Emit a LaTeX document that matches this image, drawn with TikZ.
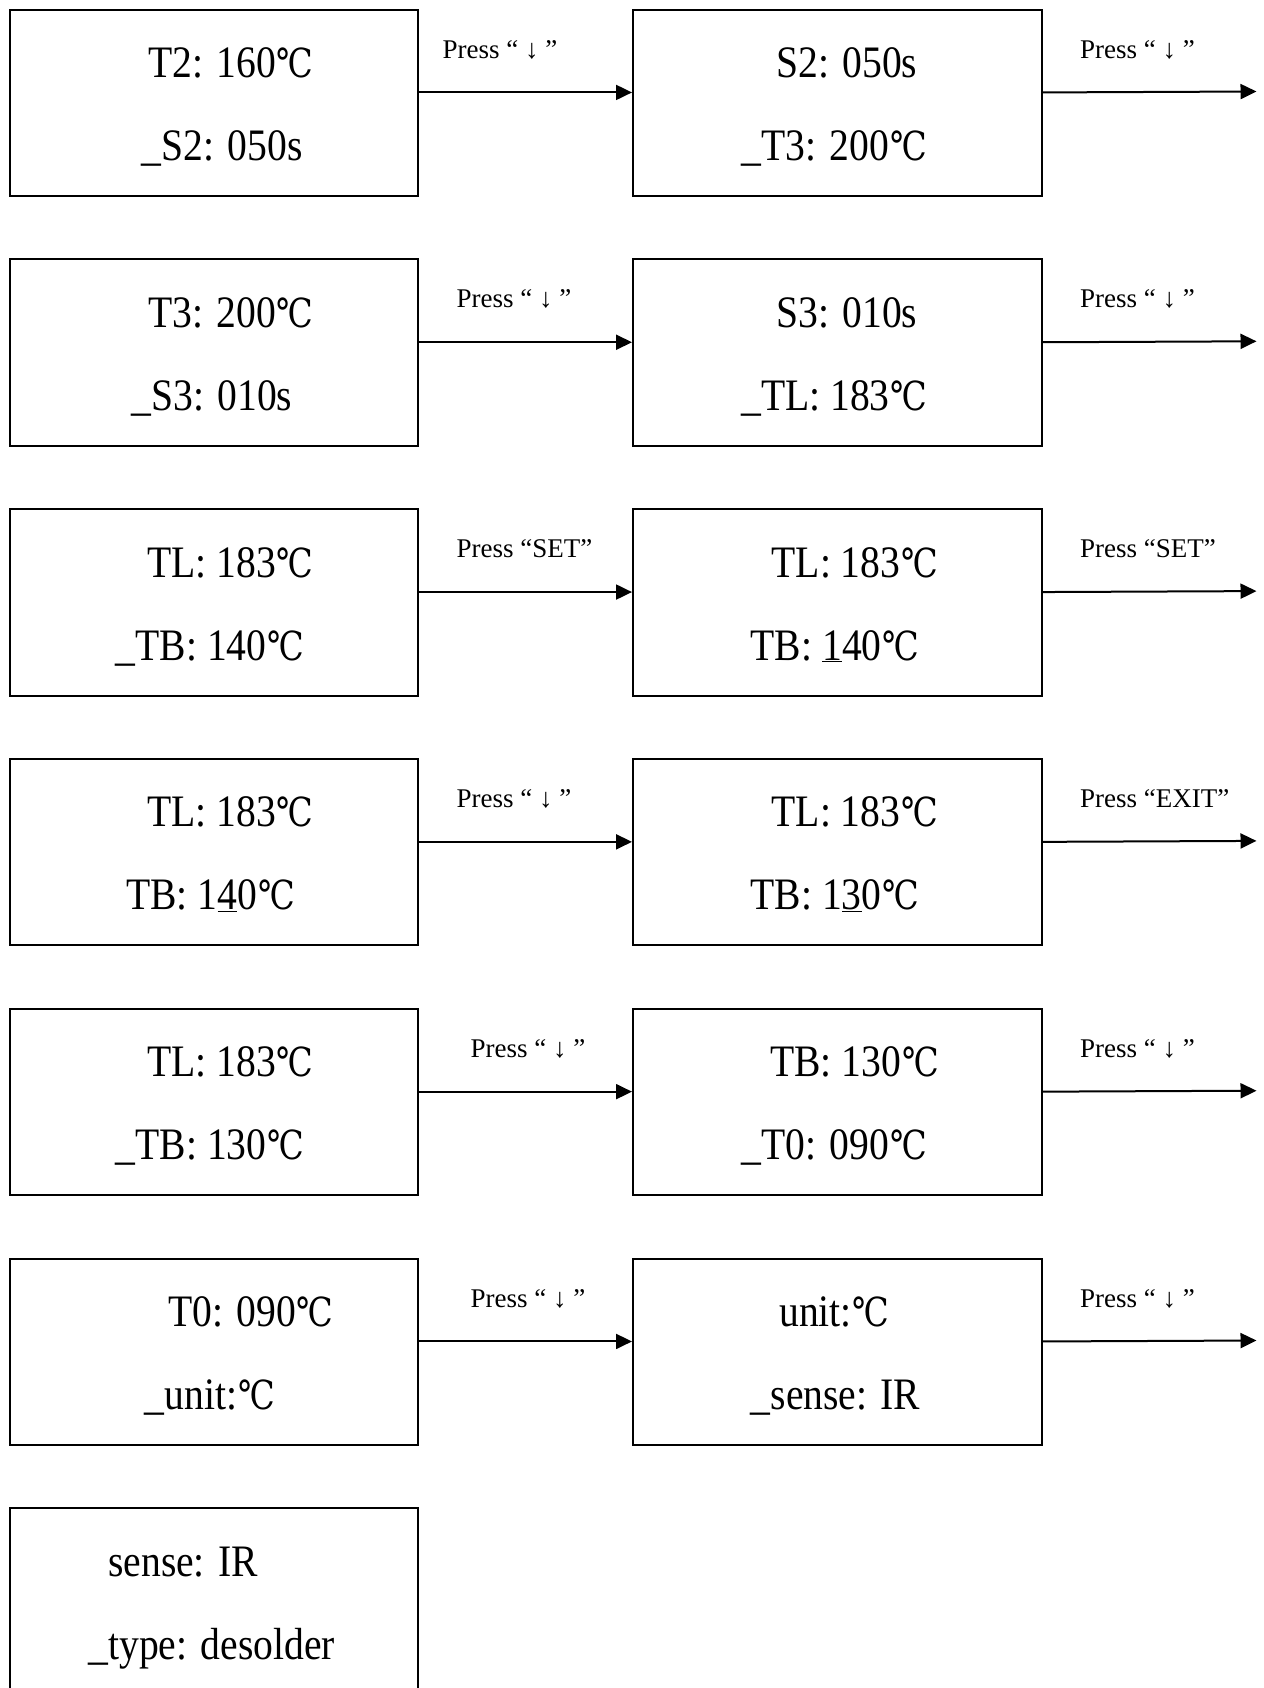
\documentclass[tikz,border=0pt]{standalone}
\usepackage{fontspec}
\setmainfont{Liberation Serif}
\newfontfamily\bigfont[FakeStretch=0.88]{Liberation Serif}
\newfontfamily\celsfont[FakeStretch=0.82]{DejaVu Serif}
\usetikzlibrary{arrows.meta}
\newcommand{\dC}{\kern1pt{\celsfont\fontsize{40}{40}\selectfont ℃}}
\tikzset{
  screen/.style={draw, line width=2pt, rectangle, minimum width=408.5pt, minimum height=186.3pt, inner sep=0pt, anchor=north west},
  big/.style={font=\bigfont\fontsize{45}{50}\selectfont, anchor=base, inner sep=0pt},
  lbl/.style={font=\fontsize{27}{30}\selectfont, anchor=base west, inner sep=0pt},
  arr/.style={line width=2pt, -{Triangle[length=16pt,width=15pt]}}
}
\begin{document}
\begin{tikzpicture}[x=1pt,y=-1pt]
\useasboundingbox (0,0) rectangle (1263,1688);
\clip (0,0) rectangle (1263,1688);
% row 1
\node[screen] (b11) at (8.6,8.6) {};
\node[screen] (b12) at (632,8.6) {};
\node[big] (t11a) at (231.0,77.5) {T2: 160\dC};
\node[big] (t11b) at (222.3,160.4) {\_S2: 050s};
\node[big] (t12a) at (846.8,77.5) {S2: 050s};
\node[big] (t12b) at (834.4,160.4) {\_T3: 200\dC};
\node[lbl] (l11) at (442.5,58.1) {Press “ ↓ ”};
\node[lbl] (l12) at (1080,58.1) {Press “ ↓ ”};
\coordinate (e1) at (1256.5,91.5);
\draw[arr] ([yshift=10.3pt]b11.east) -- ([yshift=10.3pt]b12.west);
\draw[arr] ([yshift=10.3pt]b12.east) -- (e1);
% row 2
\node[screen] (b21) at (8.6,258.4) {};
\node[screen] (b22) at (632,258.4) {};
\node[big] (t21a) at (231.0,327.3) {T3: 200\dC};
\node[big] (t21b) at (212.1,410.2) {\_S3: 010s};
\node[big] (t22a) at (846.8,327.3) {S3: 010s};
\node[big] (t22b) at (834.4,410.2) {\_TL: 183\dC};
\node[lbl] (l21) at (456.5,307.9) {Press “ ↓ ”};
\node[lbl] (l22) at (1080,307.9) {Press “ ↓ ”};
\coordinate (e2) at (1256.5,341.3);
\draw[arr] ([yshift=10.3pt]b21.east) -- ([yshift=10.3pt]b22.west);
\draw[arr] ([yshift=10.3pt]b22.east) -- (e2);
% row 3
\node[screen] (b31) at (8.6,508.2) {};
\node[screen] (b32) at (632,508.2) {};
\node[big] (t31a) at (230.4,577.1) {TL: 183\dC};
\node[big] (t31b) at (210.0,660.0) {\_TB: 140\dC};
\node[big] (t32a) at (854.9,577.1) {TL: 183\dC};
\node[big] (t32b) at (835.0,660.0) {TB: \underline{1}40\dC};
\node[lbl] (l31) at (456.5,557.7) {Press “SET”};
\node[lbl] (l32) at (1080,557.7) {Press “SET”};
\coordinate (e3) at (1256.5,591.1);
\draw[arr] ([yshift=10.3pt]b31.east) -- ([yshift=10.3pt]b32.west);
\draw[arr] ([yshift=10.3pt]b32.east) -- (e3);
% row 4
\node[screen] (b41) at (8.6,758.0) {};
\node[screen] (b42) at (632,758.0) {};
\node[big] (t41a) at (230.4,826.9) {TL: 183\dC};
\node[big] (t41b) at (210.5,909.8) {TB: 1\underline{4}0\dC};
\node[big] (t42a) at (854.9,826.9) {TL: 183\dC};
\node[big] (t42b) at (835.0,909.8) {TB: 1\underline{3}0\dC};
\node[lbl] (l41) at (456.5,807.5) {Press “ ↓ ”};
\node[lbl] (l42) at (1080,807.5) {Press “EXIT”};
\coordinate (e4) at (1256.5,840.9);
\draw[arr] ([yshift=10.3pt]b41.east) -- ([yshift=10.3pt]b42.west);
\draw[arr] ([yshift=10.3pt]b42.east) -- (e4);
% row 5
\node[screen] (b51) at (8.6,1007.8) {};
\node[screen] (b52) at (632,1007.8) {};
\node[big] (t51a) at (230.4,1076.7) {TL: 183\dC};
\node[big] (t51b) at (210.0,1159.6) {\_TB: 130\dC};
\node[big] (t52a) at (854.4,1076.7) {TB: 130\dC};
\node[big] (t52b) at (834.4,1159.6) {\_T0: 090\dC};
\node[lbl] (l51) at (470.5,1057.3) {Press “ ↓ ”};
\node[lbl] (l52) at (1080,1057.3) {Press “ ↓ ”};
\coordinate (e5) at (1256.5,1090.7);
\draw[arr] ([yshift=10.3pt]b51.east) -- ([yshift=10.3pt]b52.west);
\draw[arr] ([yshift=10.3pt]b52.east) -- (e5);
% row 6
\node[screen] (b61) at (8.6,1257.6) {};
\node[screen] (b62) at (632,1257.6) {};
\node[big] (t61a) at (250.9,1326.5) {T0: 090\dC};
\node[big] (t61b) at (210.0,1409.4) {\_unit:\dC};
\node[big] (t62a) at (834.4,1326.5) {unit:\dC};
\node[big] (t62b) at (835.5,1409.4) {\_sense: IR};
\node[lbl] (l61) at (470.5,1307.1) {Press “ ↓ ”};
\node[lbl] (l62) at (1080,1307.1) {Press “ ↓ ”};
\coordinate (e6) at (1256.5,1340.5);
\draw[arr] ([yshift=10.3pt]b61.east) -- ([yshift=10.3pt]b62.west);
\draw[arr] ([yshift=10.3pt]b62.east) -- (e6);
% row 7
\node[screen] (b71) at (8.6,1507.4) {};
\node[big] (t71a) at (183.0,1576.3) {sense: IR};
\node[big] (t71b) at (211.6,1659.2) {\_type: desolder};
\end{tikzpicture}
\end{document}
